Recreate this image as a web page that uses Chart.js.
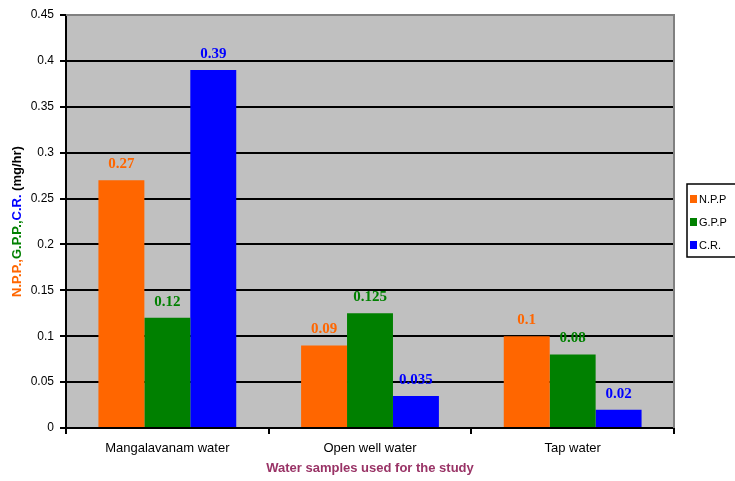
<!DOCTYPE html>
<html>
<head>
<meta charset="utf-8">
<script src="https://cdn.jsdelivr.net/npm/chart.js@4.4.0/dist/chart.umd.min.js"></script>
<style>
  html, body { margin: 0; padding: 0; background: #fff; }
  #wrap { width: 735px; height: 481px; }
</style>
</head>
<body>
<div id="wrap"><canvas id="myChart" width="735" height="481"></canvas></div>
<script>
let categories = ['Mangalavanam water', 'Open well water', 'Tap water'];
let nppValues = [0.27, 0.09, 0.1];
let gppValues = [0.12, 0.125, 0.08];
let crValues = [0.39, 0.035, 0.02];
let seriesNames = ['N.P.P', 'G.P.P', 'C.R.'];
let seriesColors = ['#FF6600', '#008000', '#0000FF'];
let yTicks = [0, 0.05, 0.1, 0.15, 0.2, 0.25, 0.3, 0.35, 0.4, 0.45];

// grey plot area + grey top/right border
const plotBg = {
    id: 'plotBg',
    beforeDraw(chart) {
        const { ctx, chartArea: a } = chart;
        ctx.save();
        ctx.fillStyle = '#C0C0C0';
        ctx.fillRect(a.left, a.top, a.right - a.left, a.bottom - a.top);
        ctx.restore();
    },
    afterDraw(chart) {
        const { ctx, chartArea: a } = chart;
        ctx.save();
        ctx.strokeStyle = '#808080';
        ctx.lineWidth = 2;
        ctx.beginPath();
        ctx.moveTo(a.left, a.top);
        ctx.lineTo(a.right, a.top);
        ctx.lineTo(a.right, a.bottom);
        ctx.stroke();
        ctx.restore();
    }
};

// value labels above bars
const barLabels = {
    id: 'barLabels',
    afterDatasetsDraw(chart) {
        const ctx = chart.ctx;
        ctx.save();
        ctx.font = 'bold 15px "Liberation Serif"';
        ctx.textAlign = 'center';
        ctx.textBaseline = 'middle';
        chart.data.datasets.forEach((ds, i) => {
            chart.getDatasetMeta(i).data.forEach((bar, j) => {
                ctx.fillStyle = ds.backgroundColor;
                ctx.fillText(String(ds.data[j]), bar.x, bar.y - 16);
            });
        });
        ctx.restore();
    }
};

// multi coloured y title, x title, legend box
const extras = {
    id: 'extras',
    afterDraw(chart) {
        const { ctx, chartArea: a } = chart;
        ctx.save();
        // y title
        const parts = [['N.P.P.,', seriesColors[0]], ['G.P.P.,', seriesColors[1]], ['C.R.', seriesColors[2]], [' (mg/hr)', '#000']];
        ctx.font = 'bold 13px "Liberation Sans"';
        let total = 0;
        parts.forEach(p => total += ctx.measureText(p[0]).width);
        ctx.translate(17, (a.top + a.bottom) / 2);
        ctx.rotate(-Math.PI / 2);
        ctx.textBaseline = 'middle';
        ctx.textAlign = 'left';
        let x = -total / 2;
        parts.forEach(p => {
            ctx.fillStyle = p[1];
            ctx.fillText(p[0], x, 0);
            x += ctx.measureText(p[0]).width;
        });
        ctx.restore();

        ctx.save();
        ctx.font = 'bold 13px "Liberation Sans"';
        ctx.fillStyle = '#993366';
        ctx.textAlign = 'center';
        ctx.textBaseline = 'middle';
        ctx.fillText('Water samples used for the study', (a.left + a.right) / 2, 468);

        // legend
        ctx.strokeStyle = '#000';
        ctx.lineWidth = 1.5;
        ctx.fillStyle = '#fff';
        ctx.fillRect(687, 184, 60, 73);
        ctx.strokeRect(687, 184, 60, 73);
        ctx.font = '11px "Liberation Sans"';
        ctx.textAlign = 'left';
        seriesNames.forEach((name, i) => {
            const y = 199 + i * 23;
            ctx.fillStyle = seriesColors[i];
            ctx.fillRect(690, y - 4, 7, 8);
            ctx.fillStyle = '#000';
            ctx.fillText(name, 699, y + 1);
        });
        ctx.restore();
    }
};

const data = {
    labels: categories,
    datasets: [
        { label: seriesNames[0], data: nppValues, backgroundColor: seriesColors[0] },
        { label: seriesNames[1], data: gppValues, backgroundColor: seriesColors[1] },
        { label: seriesNames[2], data: crValues, backgroundColor: seriesColors[2] }
    ]
};

const config = {
    type: 'bar',
    data: data,
    options: {
        responsive: false,
        animation: false,
        datasets: {
            bar: { categoryPercentage: 0.68, barPercentage: 1.0 }
        },
        layout: { padding: { top: 15, right: 61, bottom: 0, left: 0 } },
        plugins: {
            legend: { display: false },
            tooltip: { enabled: false }
        },
        scales: {
            x: {
                grid: { display: true, drawOnChartArea: false, color: '#000', lineWidth: 2, tickLength: 6, offset: true },
                border: { color: '#000', width: 2 },
                ticks: { color: '#000', font: { family: 'Liberation Sans', size: 13 }, padding: 7 },
                afterFit(scale) { scale.height = 53; }
            },
            y: {
                min: 0,
                max: 0.45,
                afterBuildTicks(scale) { scale.ticks = yTicks.map(v => ({ value: v })); },
                grid: { color: '#000', lineWidth: 2, tickLength: 6 },
                border: { color: '#000', width: 2 },
                ticks: {
                    color: '#000',
                    font: { family: 'Liberation Sans', size: 12 },
                    padding: 6,
                    callback: (v) => String(v)
                },
                afterFit(scale) { scale.width = 66; }
            }
        }
    },
    plugins: [plotBg, barLabels, extras]
};

let myChart = new Chart(document.getElementById('myChart'), config);
</script>
</body>
</html>
